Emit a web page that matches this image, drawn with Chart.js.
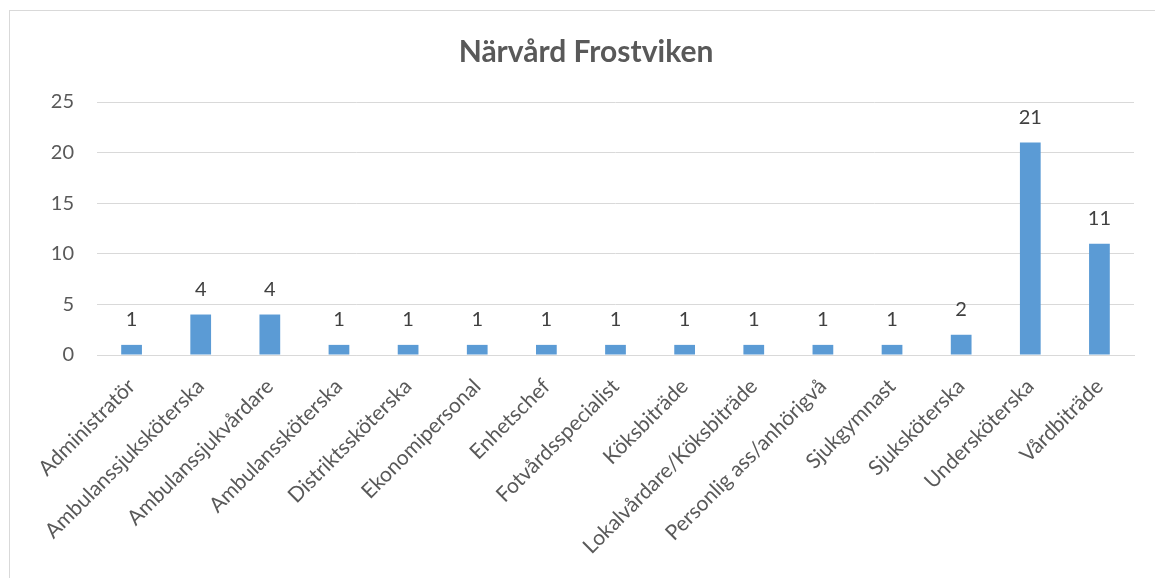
<!DOCTYPE html>
<html>
<head>
<meta charset="utf-8">
<script src="https://cdn.jsdelivr.net/npm/chart.js@4.4.1/dist/chart.umd.min.js"></script>
<style>
  html, body { margin: 0; padding: 0; background: #fff; }
  #wrap { position: relative; width: 1155px; height: 578px; }
  #frame { position: absolute; left: 9px; top: 10px; right: 0; bottom: 0;
           border-left: 1px solid #d9d9d9; border-top: 1px solid #d9d9d9; pointer-events: none; }
  canvas { position: absolute; left: 0; top: 0; }
</style>
</head>
<body>
<div id="wrap">
  <canvas id="c" width="1155" height="578"></canvas>
  <div id="frame"></div>
</div>
<script>
const chartTitle = "Närvård Frostviken";
const categories = [
  "Administratör", "Ambulanssjuksköterska", "Ambulanssjukvårdare", "Ambulanssköterska",
  "Distriktssköterska", "Ekonomipersonal", "Enhetschef", "Fotvårdsspecialist",
  "Köksbiträde", "Lokalvårdare/Köksbiträde", "Personlig ass/anhörigvå", "Sjukgymnast",
  "Sjuksköterska", "Undersköterska", "Vårdbiträde"
];
const values = [1, 4, 4, 1, 1, 1, 1, 1, 1, 1, 1, 1, 2, 21, 11];
const yTicks = [0, 5, 10, 15, 20, 25];

const FONT = "Lato, 'Open Sans', sans-serif";

const valueLabels = {
  id: 'valueLabels',
  afterDatasetsDraw(chart) {
    const ctx = chart.ctx;
    const meta = chart.getDatasetMeta(0);
    ctx.save();
    ctx.font = "20px " + FONT;
    ctx.fillStyle = "#404040";
    ctx.textAlign = "center";
    ctx.textBaseline = "middle";
    meta.data.forEach((bar, i) => {
      ctx.fillText(String(values[i]), bar.x, bar.y - 25);
    });
    ctx.restore();
  }
};

new Chart(document.getElementById('c'), {
  type: 'bar',
  data: {
    labels: categories,
    datasets: [{
      data: values,
      backgroundColor: '#5B9BD5',
      borderWidth: 0,
      barPercentage: 0.3,
      categoryPercentage: 1.0
    }]
  },
  options: {
    responsive: false,
    animation: false,
    layout: { padding: { left: 38, right: 21, top: 0, bottom: 0 } },
    plugins: {
      legend: { display: false },
      tooltip: { enabled: false },
      title: {
        display: true,
        text: chartTitle,
        color: '#595959',
        font: { family: FONT, size: 30, weight: 'bold', lineHeight: 1.2 },
        padding: { top: 34, bottom: 32 }
      }
    },
    scales: {
      x: {
        grid: { display: false, drawTicks: false },
        border: { display: true, color: '#d9d9d9', width: 1 },
        ticks: {
          color: '#595959',
          font: { family: FONT, size: 21 },
          minRotation: 45,
          maxRotation: 45,
          autoSkip: false,
          padding: 19
        },
        afterFit(axis) { axis.height = 223; }
      },
      y: {
        min: 0,
        max: 25,
        afterBuildTicks(axis) { axis.ticks = yTicks.map(v => ({ value: v })); },
        grid: { color: '#d9d9d9', lineWidth: 1, drawTicks: false },
        border: { display: false },
        ticks: {
          color: '#595959',
          font: { family: FONT, size: 20 },
          padding: 23
        },
        afterFit(axis) { axis.width = 59; }
      }
    }
  },
  plugins: [valueLabels]
});
</script>
</body>
</html>
